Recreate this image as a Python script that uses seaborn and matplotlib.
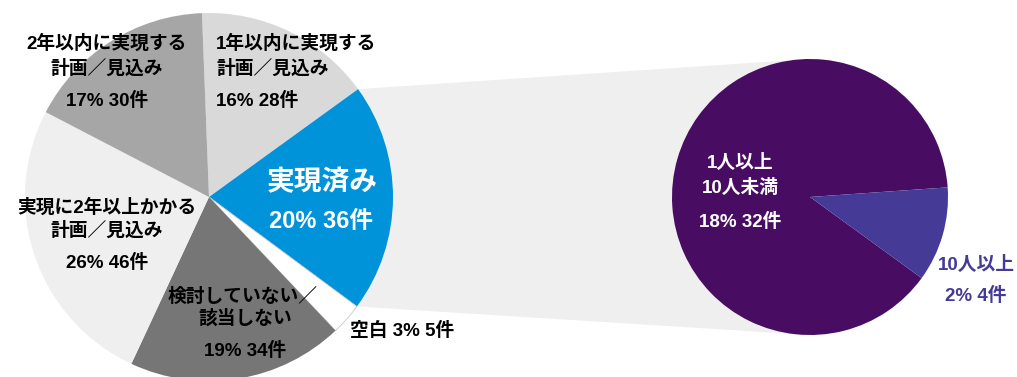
import numpy as np
import matplotlib
matplotlib.use("Agg")
import matplotlib.pyplot as plt
from matplotlib.patches import Polygon
import seaborn as sns

sns.set_theme(style="white")
plt.rcParams['font.family'] = ['Liberation Sans', 'Noto Sans CJK JP', 'DejaVu Sans']

# Main breakdown (counts)
main_labels = ["1年以内に実現する\n計画／見込み", "実現済み", "空白",
               "検討していない／\n該当しない", "実現に2年以上かかる\n計画／見込み",
               "2年以内に実現する\n計画／見込み"]
main_counts = [28, 36, 5, 34, 46, 30]
main_pcts = [16, 20, 3, 19, 26, 17]
main_colors = ["#d9d9d9", "#0093d9", "#ffffff", "#767676", "#efefef", "#a6a6a6"]

# Breakdown of 実現済み
sub_labels = ["1人以上\n10人未満", "10人以上"]
sub_counts = [32, 4]
sub_pcts = [18, 2]
sub_colors = ["#480c62", "#463a97"]

W, H = 1017, 377
fig = plt.figure(figsize=(W / 100, H / 100), dpi=100)
ax = fig.add_axes([0, 0, 1, 1])

c1, r1 = (209, H - 197), 184
c2, r2 = (810, H - 197), 138
start1 = 92.2

# connector band from the 実現済み wedge to the secondary pie
total = sum(main_counts)
a_top = np.deg2rad(start1 - 360 * main_counts[0] / total)
a_bot = np.deg2rad(start1 - 360 * sum(main_counts[:2]) / total)
band = Polygon([(c1[0] + r1 * np.cos(a_top), c1[1] + r1 * np.sin(a_top)),
                (c2[0], c2[1] + r2), (c2[0], c2[1] - r2),
                (c1[0] + r1 * np.cos(a_bot), c1[1] + r1 * np.sin(a_bot))],
               closed=True, facecolor="#efefef", edgecolor="none", zorder=0)
ax.add_patch(band)

wedges, _ = ax.pie(main_counts, colors=main_colors, startangle=start1,
                   counterclock=False, center=c1, radius=r1, frame=True,
                   wedgeprops=dict(linewidth=0))
wedges[2].set_edgecolor("#c8c8c8")
wedges[2].set_linewidth(0.6)

ax.pie(sub_counts, colors=sub_colors, startangle=-36, counterclock=False,
       center=c2, radius=r2, frame=True, wedgeprops=dict(linewidth=0))
ax.set_xlim(0, W)
ax.set_ylim(0, H)
ax.set_aspect("auto")
ax.axis("off")

fs = 13.5
bold = dict(fontweight="bold", fontsize=fs, color="black")


def y(py):
    return H - py


# 1年以内
ax.text(216, y(44), main_labels[0].split("\n")[0], ha="left", va="center", **bold)
ax.text(216, y(69), main_labels[0].split("\n")[1], ha="left", va="center", **bold)
ax.text(216, y(101), f"{main_pcts[0]}% {main_counts[0]}件", ha="left", va="center", **bold)

# 実現済み
ax.text(322, y(183), main_labels[1], ha="center", va="center", fontweight="bold",
        fontsize=20, color="white")
ax.text(321, y(221), f"{main_pcts[1]}% {main_counts[1]}件", ha="center", va="center",
        fontweight="bold", fontsize=17, color="white")

# 空白
ax.text(350, y(331), f"{main_labels[2]} {main_pcts[2]}% {main_counts[2]}件",
        ha="left", va="center", **bold)

# 検討していない
ax.text(243, y(297), main_labels[3].split("\n")[0], ha="center", va="center", **bold)
ax.text(245, y(319), main_labels[3].split("\n")[1], ha="center", va="center", **bold)
ax.text(245, y(351), f"{main_pcts[3]}% {main_counts[3]}件", ha="center", va="center", **bold)

# 実現に2年以上
ax.text(107, y(208), main_labels[4].split("\n")[0], ha="center", va="center", **bold)
ax.text(107, y(231), main_labels[4].split("\n")[1], ha="center", va="center", **bold)
ax.text(107, y(263), f"{main_pcts[4]}% {main_counts[4]}件", ha="center", va="center", **bold)

# 2年以内
ax.text(107, y(44), main_labels[5].split("\n")[0], ha="center", va="center", **bold)
ax.text(107, y(69), main_labels[5].split("\n")[1], ha="center", va="center", **bold)
ax.text(107, y(101), f"{main_pcts[5]}% {main_counts[5]}件", ha="center", va="center", **bold)

# secondary pie labels
ax.text(740, y(163), sub_labels[0].split("\n")[0], ha="center", va="center",
        fontweight="bold", fontsize=fs, color="white")
ax.text(740, y(188), sub_labels[0].split("\n")[1], ha="center", va="center",
        fontweight="bold", fontsize=fs, color="white")
ax.text(740, y(222), f"{sub_pcts[0]}% {sub_counts[0]}件", ha="center", va="center",
        fontweight="bold", fontsize=fs, color="white")
ax.text(976, y(265), sub_labels[1], ha="center", va="center",
        fontweight="bold", fontsize=fs, color=sub_colors[1])
ax.text(976, y(296), f"{sub_pcts[1]}% {sub_counts[1]}件", ha="center", va="center",
        fontweight="bold", fontsize=fs, color=sub_colors[1])

fig.savefig("out.png", dpi=100)
